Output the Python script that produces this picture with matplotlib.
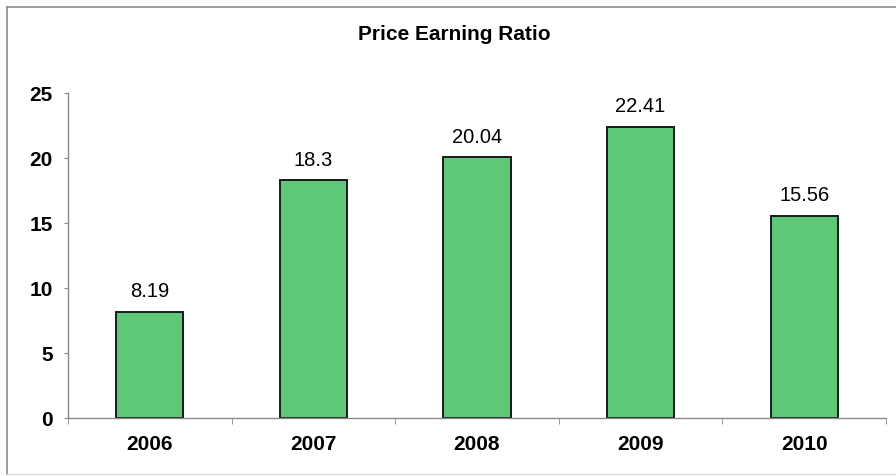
import matplotlib.pyplot as plt
from matplotlib.lines import Line2D

# --- Data ---
years = ["2006", "2007", "2008", "2009", "2010"]
pe_ratio = [8.19, 18.3, 20.04, 22.41, 15.56]
y_ticks = [0, 5, 10, 15, 20, 25]

plt.rcParams['font.family'] = ['Liberation Sans', 'DejaVu Sans']

fig = plt.figure(figsize=(8.96, 4.76), dpi=100)
ax = fig.add_axes([0.0759, 0.1218, 0.9129, 0.6828])

x = list(range(len(years)))
bars = ax.bar(x, pe_ratio, width=0.41, color="#5DC877",
              edgecolor="#1a1a1a", linewidth=1.4, zorder=2)

for xi, v in zip(x, pe_ratio):
    ax.annotate(f"{v:g}", (xi, v), xytext=(0, 7.5), textcoords="offset points",
                ha="center", va="bottom", fontsize=14.5)

ax.set_xlim(-0.5, len(years) - 0.5)
ax.set_ylim(0, 25)
ax.set_yticks(y_ticks)
ax.set_xticks(x)
ax.set_xticklabels(years, fontweight="bold", fontsize=15)
ax.set_xticks([i - 0.5 for i in range(len(years) + 1)], minor=True)
ax.tick_params(axis="x", which="major", length=0, pad=12)
ax.tick_params(axis="x", which="minor", length=4, direction="out", color="#888888")
ax.tick_params(axis="y", length=3, color="#888888", labelsize=15, pad=8)
for lbl in ax.get_yticklabels():
    lbl.set_fontweight("bold")

for side in ("top", "right"):
    ax.spines[side].set_visible(False)
for side in ("left", "bottom"):
    ax.spines[side].set_color("#8a8a8a")
    ax.spines[side].set_linewidth(1.0)

fig.text(0.507, 0.928, "Price Earning Ratio", ha="center", va="center",
         fontsize=15, fontweight="bold")

# outer chart frame
frame_kw = dict(color="#8c8c8c", linewidth=1.2, transform=fig.transFigure)
fig.add_artist(Line2D([0.008, 0.008], [0.005, 0.985], **frame_kw))
fig.add_artist(Line2D([0.008, 1.0], [0.985, 0.985], **frame_kw))
fig.add_artist(Line2D([0.008, 1.0], [0.005, 0.005], color="#dddddd",
                      linewidth=1.0, transform=fig.transFigure))

fig.savefig("out.png", dpi=100)
